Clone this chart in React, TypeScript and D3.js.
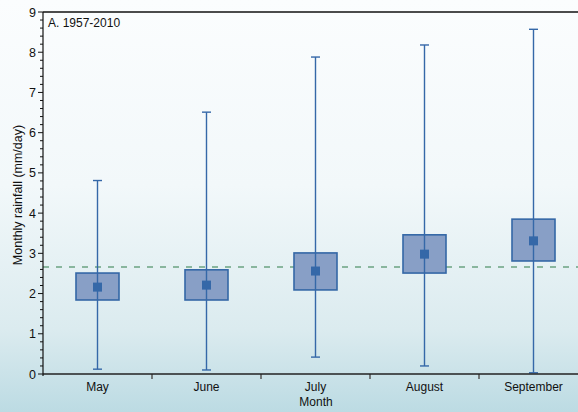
import React from 'react';
import * as d3 from 'd3';

const months = ['May', 'June', 'July', 'August', 'September'];
const whiskerHigh = [4.81, 6.51, 7.88, 8.18, 8.57];
const whiskerLow = [0.12, 0.1, 0.42, 0.2, 0.03];
const boxHigh = [2.51, 2.59, 3.01, 3.46, 3.85];
const boxLow = [1.84, 1.84, 2.09, 2.51, 2.81];
const means = [2.16, 2.21, 2.56, 2.98, 3.31];
const overallMean = 2.66;
const yTicks = [0, 1, 2, 3, 4, 5, 6, 7, 8, 9];

const W = 578, H = 412;
const left = 43, top = 12, bottom = 374;

const App = () => {
  const x = d3.scaleBand().domain(months).range([left, left + 109 * 5]);
  const y = d3.scaleLinear().domain([0, 9]).range([bottom, top]);
  const minor = d3.range(0, 9.001, 0.2).filter(v => Math.abs(v - Math.round(v)) > 0.01);
  const boxW = 43, capW = 9, mk = 9;
  const font = 'Liberation Sans, Arial, sans-serif';
  const blue = '#3568a8';

  return (
    <svg width={W} height={H} style={{ position: 'absolute', left: 0, top: 0 }}>
      <defs>
        <linearGradient id="bg" x1="0" y1="0" x2="0" y2="1">
          <stop offset="0" stopColor="#fbfdfe" />
          <stop offset="0.45" stopColor="#f2f8fa" />
          <stop offset="0.8" stopColor="#dbebef" />
          <stop offset="1" stopColor="#bcdbe3" />
        </linearGradient>
      </defs>
      <rect x={0} y={0} width={W} height={H} fill="url(#bg)" />

      {/* dashed mean line */}
      <line x1={left} x2={W} y1={y(overallMean)} y2={y(overallMean)}
        stroke="#2f7d48" strokeWidth={1.2} strokeDasharray="6,7" />

      {months.map((m, i) => {
        const cx = (x(m) as number) + x.bandwidth() / 2;
        return (
          <g key={m}>
            <rect x={cx - boxW / 2} y={y(boxHigh[i])} width={boxW}
              height={y(boxLow[i]) - y(boxHigh[i])}
              fill="#889fc6" stroke="#3467a6" strokeWidth={1.6} />
            <line x1={cx} x2={cx} y1={y(whiskerHigh[i])} y2={y(whiskerLow[i])}
              stroke={blue} strokeWidth={1.4} />
            <line x1={cx - capW / 2} x2={cx + capW / 2} y1={y(whiskerHigh[i])} y2={y(whiskerHigh[i])}
              stroke={blue} strokeWidth={1.4} />
            <line x1={cx - capW / 2} x2={cx + capW / 2} y1={y(whiskerLow[i])} y2={y(whiskerLow[i])}
              stroke={blue} strokeWidth={1.4} />
            <rect x={cx - mk / 2} y={y(means[i]) - mk / 2} width={mk} height={mk} fill={blue} />
            <text x={cx} y={391} textAnchor="middle" fontFamily={font} fontSize={12} fill="#111">{m}</text>
          </g>
        );
      })}

      {/* category separators */}
      {months.slice(1).map(m => (
        <line key={m} x1={x(m)} x2={x(m)} y1={bottom} y2={bottom + 5} stroke="#555" strokeWidth={1.5} />
      ))}

      {/* frame */}
      <line x1={left} x2={W} y1={top} y2={top} stroke="#111" strokeWidth={1.5} />
      <line x1={left} x2={W} y1={bottom} y2={bottom} stroke="#222" strokeWidth={1.5} />
      <line x1={left} x2={left} y1={top} y2={bottom + 2} stroke="#111" strokeWidth={1.2} />

      {yTicks.map(t => (
        <g key={t}>
          <line x1={left - 5} x2={left} y1={y(t)} y2={y(t)} stroke="#111" strokeWidth={1} />
          <text x={left - 7} y={y(t) + 4.5} textAnchor="end" fontFamily={font} fontSize={12.5} fill="#111">{t}</text>
        </g>
      ))}
      {minor.map(t => (
        <line key={t} x1={left - 3} x2={left} y1={y(t)} y2={y(t)} stroke="#111" strokeWidth={1} />
      ))}

      <text x={48} y={27} fontFamily={font} fontSize={12} fill="#111">A. 1957-2010</text>
      <text transform={`translate(22, 195) rotate(-90)`} textAnchor="middle"
        fontFamily={font} fontSize={12.5} fill="#111">Monthly rainfall (mm/day)</text>
      <text x={316} y={406} textAnchor="middle" fontFamily={font} fontSize={12} fill="#111">Month</text>
    </svg>
  );
};

export default App;
